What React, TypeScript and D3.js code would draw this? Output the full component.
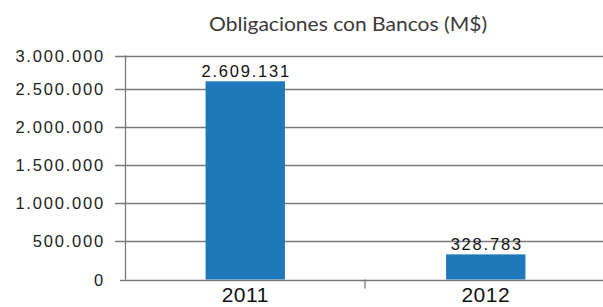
import React from "react";
import * as d3 from "d3";

const years = ["2011", "2012"];
const values = [2609131, 328783];
const valueLabels = ["2.609.131", "328.783"];
const yTicks = [0, 500000, 1000000, 1500000, 2000000, 2500000, 3000000];
const yTickLabels = ["0", "500.000", "1.000.000", "1.500.000", "2.000.000", "2.500.000", "3.000.000"];

const W = 603;
const H = 307;
const barColor = "#1f78b9";
const gridColor = "#7a7a7a";
const numFont = "'Liberation Sans', Arial, sans-serif";

const App = () => {
  // the source image spaces the top gridline a bit tighter, so a piecewise scale
  const y = d3.scaleLinear().domain([0, 2500000, 3000000]).range([279.5, 88.5, 55.5]);
  const x = d3.scaleBand().domain(years).range([125, 606]).padding(0);
  const bw = x.bandwidth() * 0.33;

  return (
    <svg width={W} height={H} style={{ position: "absolute", left: 0, top: 0 }}>
      <rect width={W} height={H} fill="#fff" />
      <text
        x={348}
        y={31}
        textAnchor="middle"
        fontFamily="Lato, 'Open Sans', sans-serif"
        fontSize={19}
        fill="#3a3a3a"
        textLength={278}
        lengthAdjust="spacingAndGlyphs"
      >
        Obligaciones con Bancos (M$)
      </text>

      {/* gridlines + tick labels */}
      {yTicks.map((t, i) => (
        <g key={t}>
          <line
            x1={t === 0 ? 120 : 115}
            x2={W}
            y1={Math.round(y(t)) + 0.5}
            y2={Math.round(y(t)) + 0.5}
            stroke={gridColor}
            strokeWidth={1.3}
          />
          <text
            x={105}
            y={y(t) + 6}
            textAnchor="end"
            fontFamily={numFont}
            fontSize={16.5}
            letterSpacing={1.8}
            fill="#222"
          >
            {yTickLabels[i]}
          </text>
        </g>
      ))}

      {/* y axis */}
      <line x1={125.5} x2={125.5} y1={y(3000000)} y2={y(0)} stroke={gridColor} strokeWidth={1.3} />

      {/* category separator tick */}
      <line
        x1={x("2012")! - 0.5}
        x2={x("2012")! - 0.5}
        y1={y(0)}
        y2={y(0) + 9}
        stroke={gridColor}
        strokeWidth={1.3}
      />

      {years.map((yr, i) => {
        const cx = x(yr)! + x.bandwidth() / 2;
        return (
          <g key={yr}>
            <rect x={cx - bw / 2} y={y(values[i])} width={bw} height={y(0) - y(values[i])} fill={barColor} />
            <text
              x={cx + 1}
              y={y(values[i]) - 4}
              textAnchor="middle"
              fontFamily={numFont}
              fontSize={16.5}
              letterSpacing={1.8}
              fill="#111"
            >
              {valueLabels[i]}
            </text>
            <text
              x={cx}
              y={302}
              textAnchor="middle"
              fontFamily={numFont}
              fontSize={21}
              letterSpacing={0.5}
              fill="#111"
            >
              {yr}
            </text>
          </g>
        );
      })}
    </svg>
  );
};

export default App;
